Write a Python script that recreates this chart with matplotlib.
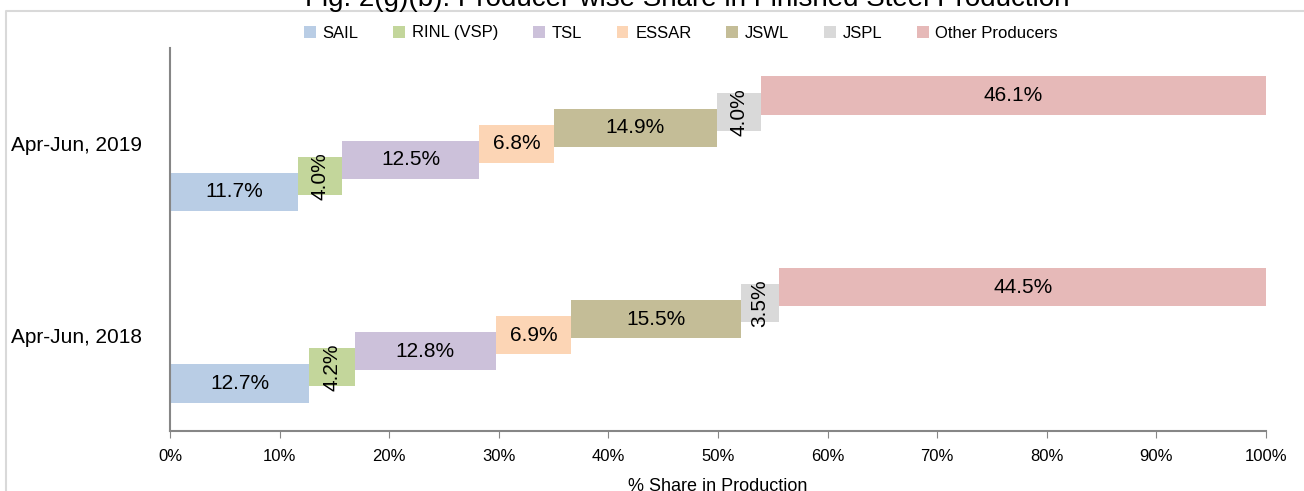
import matplotlib
matplotlib.use("Agg")
import matplotlib.pyplot as plt
from matplotlib.patches import Patch
from matplotlib.lines import Line2D

plt.rcParams['font.family'] = ['Liberation Sans', 'DejaVu Sans']

# data
periods = ["Apr-Jun, 2018", "Apr-Jun, 2019"]
producers = ["SAIL", "RINL (VSP)", "TSL", "ESSAR", "JSWL", "JSPL", "Other Producers"]
share_2018 = [12.7, 4.2, 12.8, 6.9, 15.5, 3.5, 44.5]
share_2019 = [11.7, 4.0, 12.5, 6.8, 14.9, 4.0, 46.1]
colors = ["#b9cde5", "#c3d69b", "#ccc1da", "#fcd5b5", "#c4bd97", "#d9d9d9", "#e6b9b8"]

fig = plt.figure(figsize=(13.04, 4.91), dpi=100)
ax = fig.add_axes([170/1304, 1-431/491, (1266-170)/1304, (431-48)/491])

step = 0.0838
height = 0.2
for y, shares in enumerate([share_2018, share_2019]):
    left = 0.0
    for i, v in enumerate(shares):
        yc = y - (3 - i) * step
        ax.barh(yc, v / 100, left=left / 100, height=height, color=colors[i], edgecolor='none')
        rot = 90 if v < 5 else 0
        ax.text((left + v / 2) / 100, yc, f"{v:.1f}%", ha='center', va='center',
                fontsize=15, rotation=rot)
        left += v

ax.set_xlim(0, 1)
ax.set_ylim(-0.5, 1.5)
ax.set_yticks([0, 1])
ax.set_yticklabels(periods, fontsize=15)
ax.tick_params(axis='y', length=0, pad=20)
ax.set_xticks([i / 10 for i in range(11)])
ax.set_xticklabels([f"{i*10}%" for i in range(11)], fontsize=12)
ax.tick_params(axis='x', length=5, color='#868686', pad=8)
for s in ['top', 'right']:
    ax.spines[s].set_visible(False)
for s in ['left', 'bottom']:
    ax.spines[s].set_color('#868686')
    ax.spines[s].set_linewidth(1.5)
ax.set_xlabel("% Share in Production", fontsize=13, labelpad=10)

# chart frame (cropped)
fig.add_artist(Line2D([6/1304, 6/1304, 1], [0, 1-11/491, 1-11/491],
                      transform=fig.transFigure, color='#d9d9d9', lw=1.5))

fig.text(687/1304, 1.002, "Fig. 2(g)(b): Producer-wise Share in Finished Steel Production",
         ha='center', va='center', fontsize=20)

handles = [Patch(facecolor=c, edgecolor='none') for c in colors]
fig.legend(handles, producers, loc='center', bbox_to_anchor=(681/1304, 1-33/491),
           ncol=7, frameon=False, fontsize=12, handlelength=0.7, handleheight=0.7,
           handletextpad=0.4, columnspacing=2.1)

fig.savefig("out.png", dpi=100)
